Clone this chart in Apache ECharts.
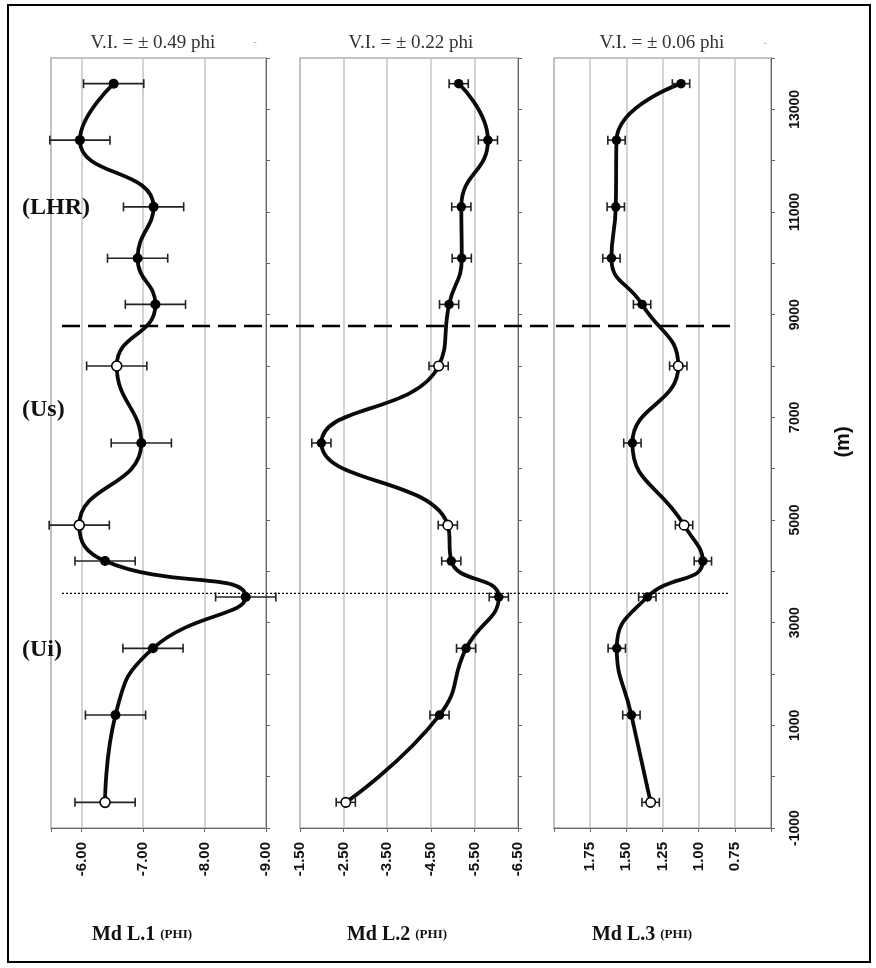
<!DOCTYPE html>
<html><head><meta charset="utf-8">
<script src="https://cdn.jsdelivr.net/npm/echarts@6/dist/echarts.min.js"></script>
<style>html,body{margin:0;padding:0;background:#fff}#c{width:876px;height:968px}</style>
</head><body><div id="c"></div>
<script>
// ---------------- data ----------------
const depths   = [13500, 12400, 11100, 10100, 9200, 8000, 6500, 4900, 4200, 3500, 2500, 1200, -500];
const openPoint = [0, 0, 0, 0, 0, 1, 0, 1, 0, 0, 0, 0, 1];
const mdL1 = [-6.52, -5.97, -7.17, -6.91, -7.20, -6.57, -6.97, -5.96, -6.38, -8.67, -7.16, -6.55, -6.38];
const mdL2 = [-5.14, -5.81, -5.20, -5.21, -4.92, -4.68, -1.99, -4.89, -4.97, -6.06, -5.31, -4.70, -2.55];
const mdL3 = [1.122, 1.568, 1.573, 1.603, 1.391, 1.141, 1.458, 1.101, 0.971, 1.355, 1.566, 1.465, 1.332];
const viL1 = 0.49, viL2 = 0.22, viL3 = 0.06;
const panelTitles = ['V.I. = \u00b1 0.49 phi', 'V.I. = \u00b1 0.22 phi', 'V.I. = \u00b1 0.06 phi'];
const panelNames = ['Md L.1', 'Md L.2', 'Md L.3'];
const panelUnit = '(PHI)';
const unitLabels = ['(LHR)', '(Us)', '(Ui)'];
const depthAxisName = '(m)';
const dashedDepth = 8780;
const dottedDepth = 3570;

// ---------------- layout ----------------
const SERIF = '"Liberation Serif","Times New Roman",serif';
const SANS = '"Liberation Sans",Arial,sans-serif';
const grids = [
  {left: 51, top: 58, width: 215, height: 770},
  {left: 300, top: 58, width: 218, height: 770},
  {left: 554, top: 58, width: 217, height: 770}
];
const xSpecs = [
  {min: -9, max: -5.5, interval: 1, lo: -9, hi: -6},
  {min: -6.5, max: -1.5, interval: 1, lo: -6.5, hi: -1.5},
  {min: 0.5, max: 2.0, interval: 0.25, lo: 0.75, hi: 1.75}
];
const panels = [
  {md: mdL1, vi: viL1, size: 10},
  {md: mdL2, vi: viL2, size: 9.5},
  {md: mdL3, vi: viL3, size: 9.5}
];

const chart = echarts.init(document.getElementById('c'), null, {renderer: 'canvas'});

const xAxis = xSpecs.map((s, i) => ({
  type: 'value', gridIndex: i, min: s.min, max: s.max, interval: s.interval, inverse: true,
  axisLine: {show: true, onZero: false, lineStyle: {color: '#666', width: 1}},
  axisTick: {show: true, inside: false, length: 4, lineStyle: {color: '#666'}},
  splitLine: {show: true, lineStyle: {color: '#c4c4c4', width: 1.5}},
  axisLabel: {
    rotate: 90, margin: 14, color: '#111', fontFamily: SANS, fontWeight: 'bold', fontSize: 15,
    formatter: v => (v >= s.lo - 1e-9 && v <= s.hi + 1e-9) ? v.toFixed(2) : ''
  }
}));

const yAxis = grids.map((g, i) => ({
  type: 'value', gridIndex: i, position: 'right', min: -1000, max: 14000, interval: 1000,
  axisLine: {show: true, onZero: false, lineStyle: {color: '#666', width: 1}},
  axisTick: {show: true, inside: false, length: 4, lineStyle: {color: '#666'}},
  splitLine: {show: false},
  axisLabel: {
    show: i === 2, rotate: 90, margin: 17, color: '#111', fontFamily: SANS, fontWeight: 'bold', fontSize: 14,
    formatter: v => (Math.round(v / 1000) % 2 !== 0) ? String(v) : ''
  }
}));

function errRender(params, api) {
  const lo = api.coord([api.value(0), api.value(2)]);
  const hi = api.coord([api.value(1), api.value(2)]);
  const c = 4.5;
  const st = {stroke: '#222', lineWidth: 1.6};
  return {type: 'group', children: [
    {type: 'line', shape: {x1: lo[0], y1: lo[1], x2: hi[0], y2: hi[1]}, style: st},
    {type: 'line', shape: {x1: lo[0], y1: lo[1] - c, x2: lo[0], y2: lo[1] + c}, style: st},
    {type: 'line', shape: {x1: hi[0], y1: hi[1] - c, x2: hi[0], y2: hi[1] + c}, style: st}
  ]};
}

const series = [];
panels.forEach((p, i) => {
  series.push({
    type: 'line', xAxisIndex: i, yAxisIndex: i, smooth: 0.5, symbol: 'none', z: 2,
    lineStyle: {color: '#0a0a0a', width: 3.8},
    data: depths.map((d, k) => [p.md[k], d])
  });
  series.push({
    type: 'custom', xAxisIndex: i, yAxisIndex: i, z: 3, clip: false,
    renderItem: errRender, encode: {x: [0, 1], y: 2},
    data: depths.map((d, k) => [p.md[k] - p.vi, p.md[k] + p.vi, d])
  });
  series.push({
    type: 'scatter', xAxisIndex: i, yAxisIndex: i, z: 4, symbol: 'circle', symbolSize: p.size,
    data: depths.map((d, k) => ({
      value: [p.md[k], d],
      itemStyle: openPoint[k] ? {color: '#fff', borderColor: '#000', borderWidth: 1.6, opacity: 1}
                              : {color: '#000', borderColor: '#000', borderWidth: 0, opacity: 1}
    }))
  });
});

const titleCenters = [153, 411, 662];
const nameCenters = [142, 397, 642];
const unitY = [208, 410, 650];

function buildGraphic() {
  const g = [];
  g.push({type: 'rect', shape: {x: 8, y: 5, width: 862, height: 957},
          style: {fill: 'none', stroke: '#000', lineWidth: 2}, z: 10});
  panelTitles.forEach((t, i) => g.push({type: 'text', x: titleCenters[i], y: 43,
    style: {text: t, font: '19px ' + SERIF, fill: '#333', align: 'center', verticalAlign: 'middle'}}));
  g.push({type: 'text', x: 255, y: 42, style: {text: '-', font: '11px ' + SANS, fill: '#aaa', align: 'center', verticalAlign: 'middle'}});
  g.push({type: 'text', x: 765, y: 43, style: {text: '-', font: '11px ' + SANS, fill: '#aaa', align: 'center', verticalAlign: 'middle'}});
  panelNames.forEach((t, i) => g.push({type: 'text', x: nameCenters[i], y: 935,
    style: {text: '{a|' + t + ' }{b|' + panelUnit + '}', align: 'center', verticalAlign: 'middle',
      rich: {a: {font: 'bold 20px ' + SERIF, fill: '#111'}, b: {font: 'bold 13px ' + SERIF, fill: '#111'}}}}));
  unitLabels.forEach((t, i) => g.push({type: 'text', x: 22, y: unitY[i],
    style: {text: t, font: 'bold 24px ' + SERIF, fill: '#111', align: 'left', verticalAlign: 'middle'}}));
  g.push({type: 'text', x: 843, y: 442, rotation: Math.PI / 2,
    style: {text: depthAxisName, font: 'bold 20px ' + SANS, fill: '#111', align: 'center', verticalAlign: 'middle'}});
  const yDash = chart.convertToPixel({yAxisIndex: 0}, dashedDepth);
  const yDot = chart.convertToPixel({yAxisIndex: 0}, dottedDepth);
  g.push({type: 'line', shape: {x1: 62, y1: yDash, x2: 730, y2: yDash}, z: 9,
    style: {stroke: '#000', lineWidth: 2.6, lineDash: [18, 8]}});
  g.push({type: 'line', shape: {x1: 62, y1: yDot, x2: 729, y2: yDot}, z: 9,
    style: {stroke: '#000', lineWidth: 1.4, lineDash: [2, 2]}});
  return g;
}

chart.setOption({
  animation: false,
  backgroundColor: '#fff',
  grid: grids.map(g => Object.assign({show: true, borderColor: '#8a8a8a', borderWidth: 1.2, backgroundColor: 'transparent'}, g)),
  xAxis, yAxis, series
});
chart.setOption({graphic: buildGraphic()});
</script></body></html>
